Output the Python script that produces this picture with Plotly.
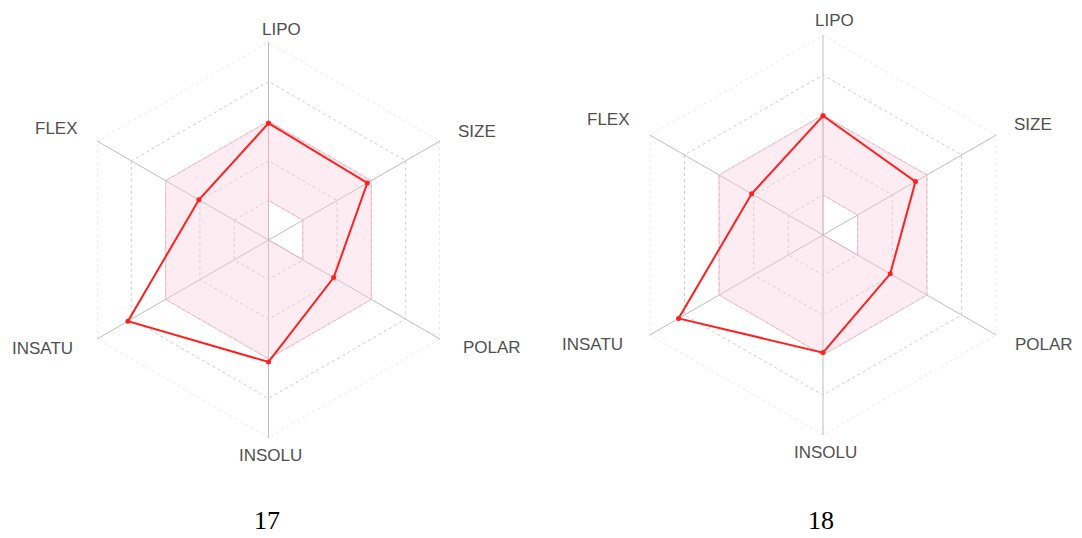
import plotly.graph_objects as go

categories = ["LIPO", "SIZE", "POLAR", "INSOLU", "INSATU", "FLEX"]
values_17 = [2.95, 2.88, 1.9, 3.08, 4.1, 2.03]
values_18 = [2.98, 2.67, 1.94, 2.94, 4.17, 2.06]
optimal_outer = [3, 3, 3, 3, 3, 3]
optimal_inner = [1, 1, 1, 0, 0, 0]
outer_ring = [5, 5, 5, 5, 5, 5]
panel_labels = ["17", "18"]

# label centre positions in window pixels (x, y from top-left), per panel
label_pos_17 = [(281, 30), (477, 131), (491.7, 347.5), (270.8, 455), (42.5, 348), (56.5, 128.5)]
label_pos_18 = [(834, 21), (1033, 124.5), (1043.5, 344), (825, 452), (592.5, 344), (608, 120)]
panel_label_pos = [(267, 520), (821, 520)]

# keyhole polygon for the pink optimal zone (outer hexagon minus inner hole)
L, S, P = categories[0], categories[1], categories[2]
zone_theta = categories + [L, L, L, P, S, L]
zone_r = optimal_outer + [optimal_outer[0], optimal_inner[0], optimal_inner[3],
                          optimal_inner[2], optimal_inner[1], optimal_inner[0]]

fig = go.Figure()
for i, vals in enumerate([values_17, values_18]):
    sp = "polar" if i == 0 else "polar2"
    fig.add_trace(go.Scatterpolar(
        r=outer_ring + [outer_ring[0]], theta=categories + [categories[0]], mode="lines",
        line=dict(color="#cccccc", width=0.8, dash="3px,3px"), cliponaxis=False,
        subplot=sp, showlegend=False, hoverinfo="skip"))
    fig.add_trace(go.Scatterpolar(
        r=zone_r, theta=zone_theta, mode="lines", fill="toself",
        fillcolor="rgba(250,200,215,0.35)",
        line=dict(color="rgba(240,170,190,0.8)", width=0.8),
        subplot=sp, showlegend=False, hoverinfo="skip"))
    fig.add_trace(go.Scatterpolar(
        r=vals + [vals[0]], theta=categories + [categories[0]],
        mode="lines+markers",
        line=dict(color="#ff2020", width=2),
        marker=dict(color="#ff2020", size=5),
        subplot=sp, showlegend=False))

polar_common = dict(
    bgcolor="white",
    gridshape="linear",
    radialaxis=dict(range=[0, 5], tickvals=[1, 2, 3, 4, 5], showticklabels=False,
                    ticks="", showline=False, gridcolor="#cccccc", griddash="3px,3px",
                    gridwidth=0.8),
    angularaxis=dict(categoryorder="array", categoryarray=categories,
                     rotation=90, direction="clockwise", ticks="",
                     showline=False, showticklabels=False,
                     gridcolor="#bdbdbd", gridwidth=0.8),
)

OFF = 8  # page body margin
W, H = 1082 - 2 * OFF, 538 - OFF


def px(x, y):
    return (x - OFF) / W, 1 - (y - OFF) / H


def dom(x0, x1, y0, y1):
    a, b = px(x0, y1)
    c, d = px(x1, y0)
    return dict(x=[a, c], y=[b, d])


annotations = []
for positions in (label_pos_17, label_pos_18):
    for name, (x, y) in zip(categories, positions):
        ax, ay = px(x, y)
        annotations.append(dict(text=name, x=ax, y=ay, xref="paper", yref="paper",
                                xanchor="center", yanchor="middle", showarrow=False,
                                font=dict(family="Liberation Sans, Arial", size=17, color="#505050")))
for name, (x, y) in zip(panel_labels, panel_label_pos):
    ax, ay = px(x, y)
    annotations.append(dict(text=name, x=ax, y=ay, xref="paper", yref="paper",
                            xanchor="center", yanchor="middle", showarrow=False,
                            font=dict(family="Liberation Serif, Times New Roman", size=26, color="black")))

fig.update_layout(
    width=W, height=H,
    margin=dict(l=0, r=0, t=0, b=0),
    paper_bgcolor="white", plot_bgcolor="white",
    polar=dict(domain=dom(70.5, 466.5, 42, 438), **polar_common),
    polar2=dict(domain=dom(623, 1023, 35, 435), **polar_common),
    annotations=annotations,
)

fig.write_html("out.html")
